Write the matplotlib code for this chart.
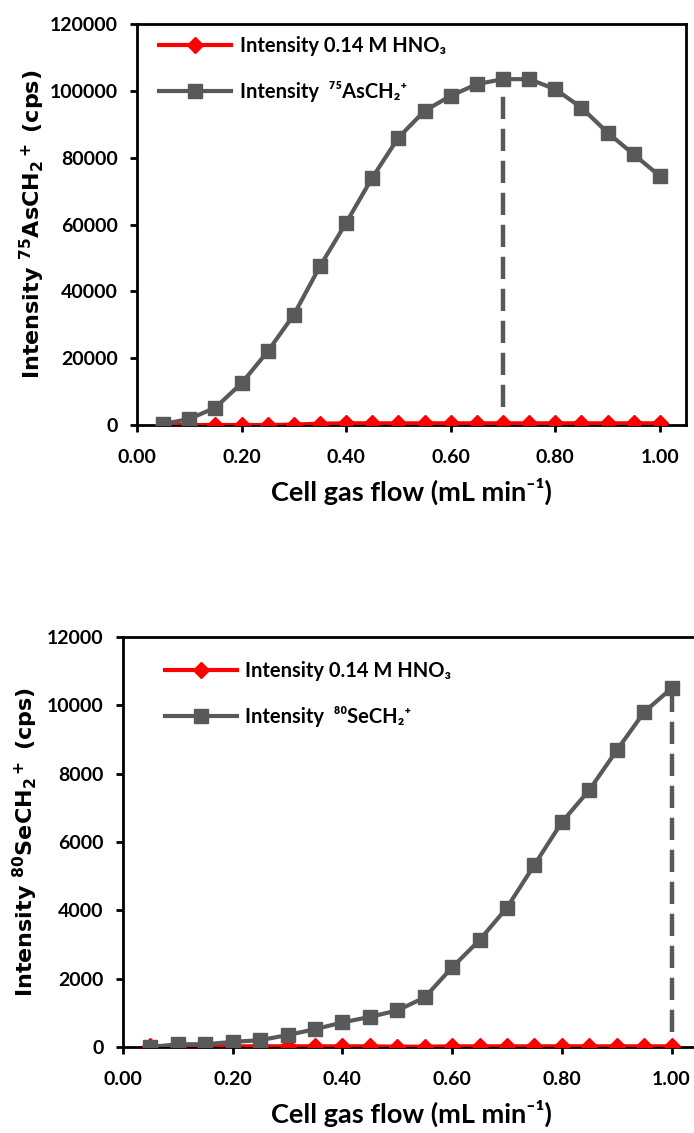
import matplotlib
matplotlib.use("Agg")
import matplotlib.pyplot as plt

# cell gas flow (mL/min)
flow = [0.05, 0.10, 0.15, 0.20, 0.25, 0.30, 0.35, 0.40, 0.45, 0.50,
        0.55, 0.60, 0.65, 0.70, 0.75, 0.80, 0.85, 0.90, 0.95, 1.00]

# As panel
as_blank = [0, 0, 0, 0, 0, 100, 400, 500, 500, 500,
            500, 500, 500, 500, 500, 500, 500, 500, 500, 500]
as_signal = [300, 1800, 5200, 12500, 22000, 33000, 47500, 60500, 74000, 86000,
             94000, 98500, 102000, 103500, 103500, 100500, 95000, 87500, 81000, 74500]
as_opt = 0.70

# Se panel
se_blank = [30, 20, 20, 20, 20, 20, 20, 20, 20, 10,
            10, 20, 20, 20, 20, 20, 20, 20, 20, 20]
se_signal = [0, 80, 80, 150, 200, 350, 520, 720, 880, 1070,
             1450, 2330, 3130, 4080, 5330, 6580, 7520, 8680, 9800, 10500]
se_opt = 1.00

xticks = [0.0, 0.2, 0.4, 0.6, 0.8, 1.0]

plt.rcParams["mathtext.fontset"] = "dejavusans"
plt.rcParams["mathtext.default"] = "bf"

FONT = ["Lato", "DejaVu Sans"]
RED = "#FF0000"
GRAY = "#595959"


def panel(ax, blank, signal, opt, ymax, ystep, sig_label, ylab, ylx, dash_from, leg_xy):
    ax.plot(flow, blank, color=RED, lw=3, marker="D", ms=8.5, mec=RED,
            label="Intensity 0.14 M HNO\u2083", zorder=3)
    ax.plot(flow, signal, color=GRAY, lw=3, marker="s", ms=10, mec=GRAY,
            label=sig_label, zorder=4)
    i = flow.index(opt)
    ax.plot([opt, opt], [dash_from, signal[i]], color=GRAY, lw=3.2,
            dashes=(5, 2.2), zorder=2)
    ax.set_xlim(0, 1.05)
    ax.set_ylim(0, ymax)
    ax.set_xticks(xticks)
    ax.set_xticklabels([f"{t:.2f}" for t in xticks])
    ax.set_yticks(range(0, ymax + 1, ystep))
    ax.tick_params(direction="out", length=5, width=2, labelsize=14)
    ax.tick_params(axis="x", pad=12)
    ax.tick_params(axis="y", pad=9)
    for t in ax.get_xticklabels() + ax.get_yticklabels():
        t.set_family(FONT)
        t.set_fontweight("bold")
    for s in ax.spines.values():
        s.set_linewidth(2)
    ax.set_xlabel("Cell gas flow (mL min\u207b\u00b9)", fontsize=19.5,
                  family=FONT, fontweight="bold", labelpad=9)
    ax.set_ylabel(ylab, fontsize=16, fontweight="bold", family="DejaVu Sans")
    ax.yaxis.set_label_coords(ylx, 0.5)
    ax.legend(loc="upper left", bbox_to_anchor=leg_xy, frameon=False,
              handlelength=3.6, labelspacing=1.25, handletextpad=0.4,
              prop={"family": FONT, "size": 14.5, "weight": "bold"})


fig = plt.figure(figsize=(6.94, 11.33), dpi=100)
ax1 = fig.add_axes([0.1974, 0.6249, 0.791, 0.3539])
ax2 = fig.add_axes([0.1772, 0.0759, 0.830, 0.3619])

panel(ax1, as_blank, as_signal, as_opt, 120000, 20000,
      "Intensity  \u2077\u2075AsCH\u2082\u207a",
      r"Intensity $^{75}$AsCH$_2$$^+$ (cps)", -0.164, 5500, (0.007, 1.015))
panel(ax2, se_blank, se_signal, se_opt, 12000, 2000,
      "Intensity  \u2078\u2070SeCH\u2082\u207a",
      r"Intensity $^{80}$SeCH$_2$$^+$ (cps)", -0.144, 450, (0.041, 0.985))

fig.savefig("out.png", dpi=100, facecolor="white")
